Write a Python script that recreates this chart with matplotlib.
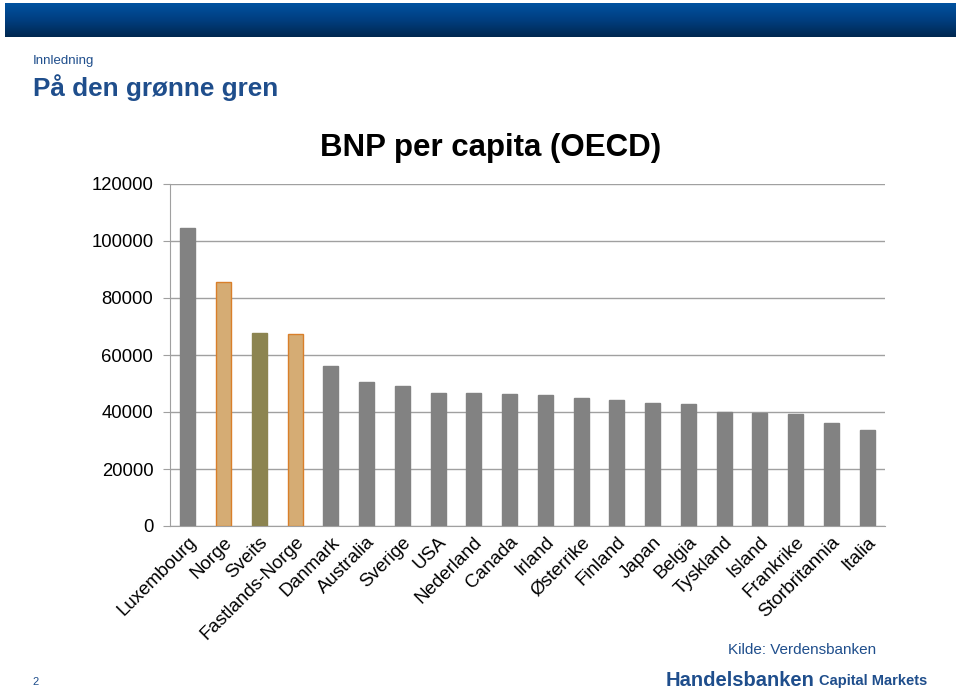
import numpy as np
import matplotlib.pyplot as plt
from matplotlib.colors import LinearSegmentedColormap

plt.rcParams['font.family'] = ['Liberation Sans', 'DejaVu Sans']

countries = ['Luxembourg', 'Norge', 'Sveits', 'Fastlands-Norge', 'Danmark', 'Australia',
             'Sverige', 'USA', 'Nederland', 'Canada', 'Irland', 'Østerrike', 'Finland',
             'Japan', 'Belgia', 'Tyskland', 'Island', 'Frankrike', 'Storbritannia', 'Italia']
gdp = [104500, 85600, 67700, 67400, 56100, 50500, 49100, 46700, 46700, 46300,
       46000, 44900, 44200, 43200, 42800, 40000, 39600, 39300, 36100, 33700]

gray = '#828282'
tan = '#D5AC74'
olive = '#8C8450'
face = [gray] * len(countries)
edge = [gray] * len(countries)
face[1], edge[1] = tan, '#D97F2A'
face[3], edge[3] = tan, '#D97F2A'
face[2], edge[2] = olive, olive

fig = plt.figure(figsize=(9.6, 6.91), dpi=100)

# banner
banner = fig.add_axes([5 / 960, 1 - 37 / 691, 950 / 960, 34 / 691])
grad = np.linspace(0, 1, 100).reshape(-1, 1)
cmap = LinearSegmentedColormap.from_list('b', ['#0052A0', '#003E80', '#002850'])
banner.imshow(grad, aspect='auto', cmap=cmap, extent=[0, 1, 0, 1])
banner.axis('off')

fig.text(33 / 960, 1 - 61 / 691, 'Innledning', color='#1F4E8C', fontsize=9.5, va='center')
fig.text(33 / 960, 1 - 88 / 691, 'På den grønne gren', color='#1F4E8C', fontsize=18.8,
         fontweight='bold', va='center')

ax = fig.add_axes([170 / 960, 1 - 526 / 691, 715 / 960, 342 / 691])
x = np.arange(len(countries))
ax.bar(x, gdp, width=0.42, color=face, edgecolor=edge, linewidth=1, zorder=3)
ax.set_xlim(-0.5, len(countries) - 0.5)
ax.set_ylim(0, 120000)
ax.set_yticks(np.arange(0, 120001, 20000))
ax.yaxis.grid(True, color='#a0a0a0', linewidth=1, zorder=0)
for s in ['top', 'right']:
    ax.spines[s].set_visible(False)
for s in ['left', 'bottom']:
    ax.spines[s].set_color('#a0a0a0')
ax.tick_params(axis='y', colors='#a0a0a0', labelcolor='black', labelsize=13.3, length=5, pad=7)
ax.tick_params(axis='x', length=0, labelsize=13.5)
ax.set_xticks(x)
ax.set_xticklabels(countries, rotation=45, ha='right', rotation_mode='anchor')
for lbl in ax.get_xticklabels():
    lbl.set_position((0, -0.008))

fig.text(491 / 960, 1 - 148 / 691, 'BNP per capita (OECD)', fontsize=22.5,
         fontweight='bold', ha='center', va='center')

fig.text(876 / 960, 1 - 650 / 691, 'Kilde: Verdensbanken', color='#1F4E8C', fontsize=11,
         ha='right', va='center')
fig.text(666 / 960, 1 - 680 / 691, 'Handelsbanken', color='#1F4E8C', fontsize=14.5,
         fontweight='bold', va='center')
fig.text(819 / 960, 1 - 681 / 691, 'Capital Markets', color='#1F4E8C', fontsize=10.5,
         fontweight='bold', va='center')
fig.text(36 / 960, 1 - 682 / 691, '2', color='#1F4E8C', fontsize=8, ha='center', va='center')

fig.savefig('out.png', dpi=100)
